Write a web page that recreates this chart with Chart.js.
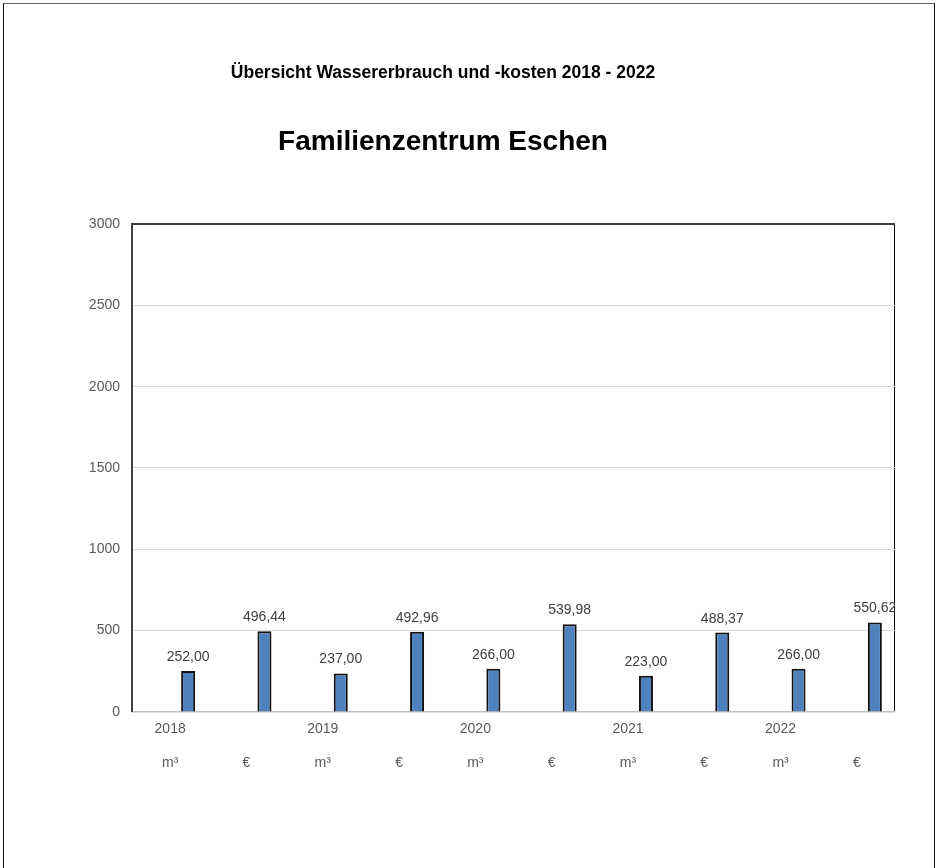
<!DOCTYPE html>
<html>
<head>
<meta charset="utf-8">
<script src="https://cdn.jsdelivr.net/npm/chart.js@4.4.1/dist/chart.umd.min.js"></script>
<style>
  html, body { margin: 0; padding: 0; background: #fff; overflow: hidden; }
  #stage { position: relative; width: 937px; height: 868px; overflow: hidden; }
  #frame {
    position: absolute; left: 3px; top: 3px; width: 930px; height: 900px;
    border: 1.5px solid #111; border-top-color: #666;
  }
  #waterChart { position: absolute; left: -9px; top: 0; }
</style>
</head>
<body>
<div id="stage">
  <div id="frame"></div>
  <canvas id="waterChart" width="904" height="868"></canvas>
</div>
<script>
// ========== DATA ==========
const years = ['2018', '2019', '2020', '2021', '2022'];
const units = ['m³', '€'];
// consumption (m³) and cost (€) per year
const consumption = [252.00, 237.00, 266.00, 223.00, 266.00];
const costs = [496.44, 492.96, 539.98, 488.37, 550.62];
const yTicks = [0, 500, 1000, 1500, 2000, 2500, 3000];

const FONT = "'Liberation Sans', Arial, sans-serif";

// two label rows: year under the m³ column, unit under every column
const labels = [];
const values = [];
years.forEach((year, i) => {
    labels.push([year, units[0]]);
    values.push(consumption[i]);
    labels.push(['', units[1]]);
    values.push(costs[i]);
});

// German number format, e.g. 496,44
function formatValue(v) {
    return v.toFixed(2).replace('.', ',');
}

// value labels above the bars (no datalabels plugin offline)
const valueLabels = {
    id: 'valueLabels',
    afterDatasetsDraw(chart) {
        const ctx = chart.ctx;
        const meta = chart.getDatasetMeta(1);
        ctx.save();
        ctx.font = '14px ' + FONT;
        ctx.fillStyle = '#404040';
        ctx.textAlign = 'center';
        ctx.textBaseline = 'alphabetic';
        meta.data.forEach((bar, i) => {
            const v = chart.data.datasets[1].data[i];
            if (v == null) return;
            ctx.fillText(formatValue(v), bar.x, bar.y - 10);
        });
        ctx.restore();
    }
};

const ctx = document.getElementById('waterChart').getContext('2d');

new Chart(ctx, {
    type: 'bar',
    data: {
        labels: labels,
        datasets: [{
            // empty first series of the original sheet, keeps the bars right of centre
            label: '',
            data: values.map(() => null)
        }, {
            label: 'Wasser',
            data: values,
            backgroundColor: '#4f81bd',
            borderColor: '#111',
            borderWidth: 2
        }]
    },
    options: {
        responsive: false,
        animation: false,
        datasets: {
            bar: {
                categoryPercentage: 0.944,
                barPercentage: 0.389
            }
        },
        layout: {
            padding: {top: 0, left: 0, right: 0, bottom: 88}
        },
        scales: {
            x: {
                grid: {
                    drawTicks: false,
                    // only the closing line on the right side of the plot
                    color: (c) => c.tick ? 'rgba(0,0,0,0)' : '#000',
                    lineWidth: 2
                },
                border: {
                    color: '#bfbfbf',
                    width: 1.5
                },
                ticks: {
                    color: '#595959',
                    padding: 0,
                    maxRotation: 0,
                    autoSkip: false,
                    font: {family: FONT, size: 14, lineHeight: 2.43}
                }
            },
            y: {
                min: yTicks[0],
                max: yTicks[yTicks.length - 1],
                afterBuildTicks: (scale) => {
                    scale.ticks = yTicks.map(v => ({value: v}));
                },
                afterFit: (scale) => {
                    scale.width = 141;
                },
                grid: {
                    drawTicks: false,
                    color: (c) => c.tick && c.tick.value === 3000 ? '#404040' : '#d9d9d9',
                    lineWidth: (c) => c.tick && c.tick.value === 3000 ? 2 : 1
                },
                border: {
                    color: '#404040',
                    width: 2
                },
                ticks: {
                    color: '#595959',
                    padding: 12,
                    font: {family: FONT, size: 14},
                    callback: (v) => String(v)
                }
            }
        },
        plugins: {
            legend: {display: false},
            tooltip: {enabled: false},
            title: {
                display: true,
                text: 'Übersicht Wassererbrauch und -kosten 2018 - 2022',
                color: '#000',
                font: {family: FONT, size: 17.5, weight: 'bold'},
                padding: {top: 63, bottom: 41.7}
            },
            subtitle: {
                display: true,
                text: 'Familienzentrum Eschen',
                color: '#000',
                font: {family: FONT, size: 28, weight: 'bold'},
                padding: {top: 0, bottom: 64.7}
            }
        }
    },
    plugins: [valueLabels]
});
</script>
</body>
</html>
